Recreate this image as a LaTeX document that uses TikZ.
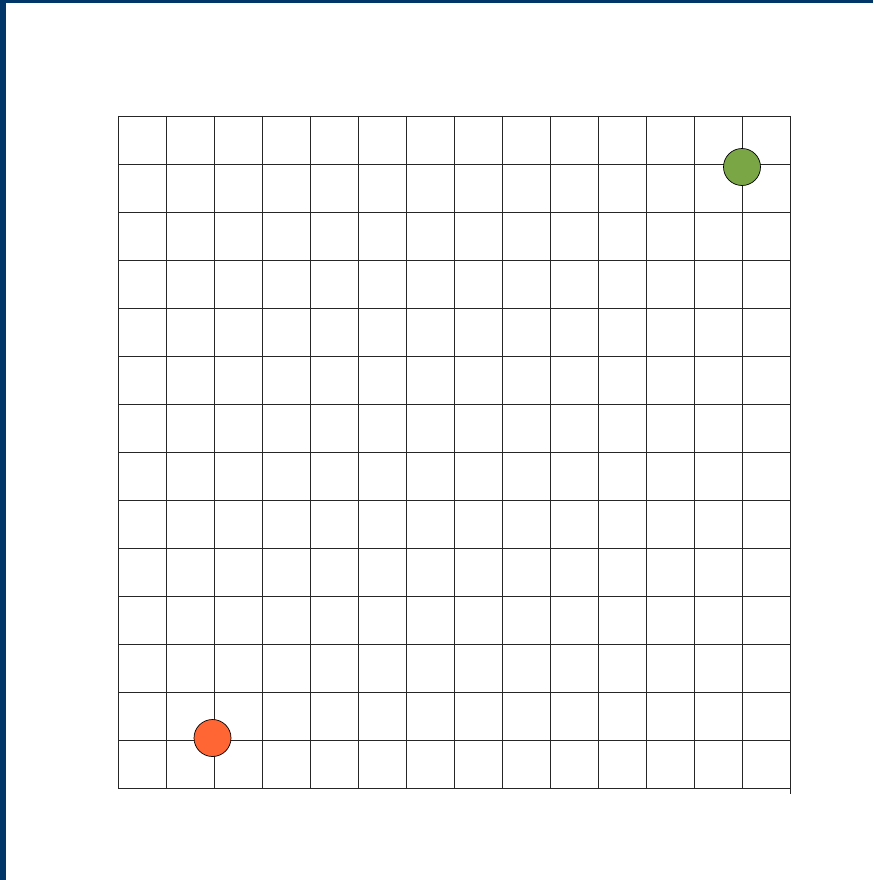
\documentclass[tikz,border=0pt]{standalone}
\definecolor{frameblue}{RGB}{0,54,104}
\definecolor{goalgreen}{RGB}{122,166,70}
\definecolor{startorange}{RGB}{255,102,51}
\tikzset{
  gridline/.style={draw=black!85, line width=0.8pt},
  dot/.style={circle, draw=black, line width=0.7pt, inner sep=0pt, minimum size=37pt},
}
\begin{document}
\begin{tikzpicture}[x=1pt,y=-1pt]
\useasboundingbox (0,0) rectangle (873,880);
\fill[white] (0,0) rectangle (873,880);
\fill[frameblue] (0,0) rectangle (6,880);
\fill[frameblue] (0,0) rectangle (873,3.5);
\foreach \i in {0,...,14} {
  \draw[gridline] (118+48*\i,116) -- (118+48*\i,788);
  \draw[gridline] (118,116+48*\i) -- (790,116+48*\i);
}
\draw[gridline] (790,788) -- (790,794);
\node[dot, fill=goalgreen] (goal) at (742,167) {};
\node[dot, fill=startorange] (start) at (212.5,738) {};
\end{tikzpicture}
\end{document}
